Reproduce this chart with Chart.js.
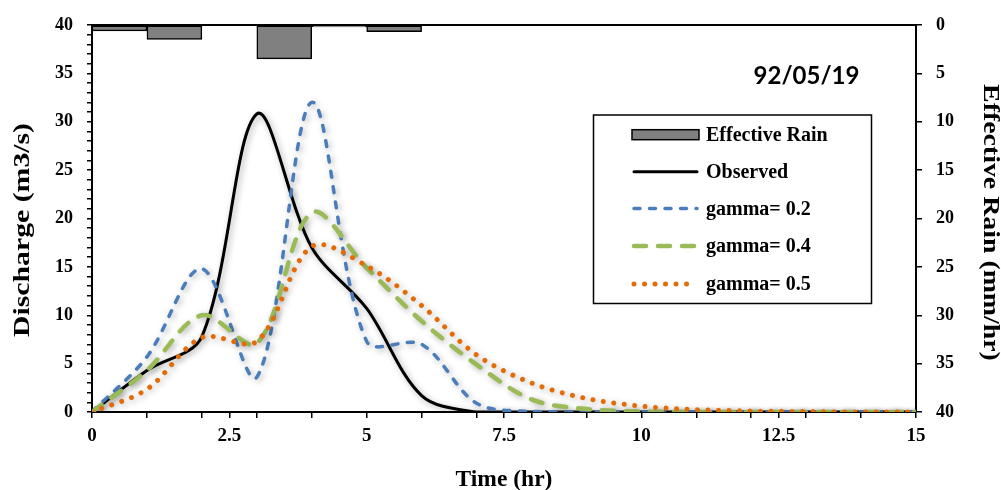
<!DOCTYPE html>
<html><head><meta charset="utf-8">
<script src="https://cdn.jsdelivr.net/npm/chart.js@4.4.1/dist/chart.umd.min.js"></script>
<style>html,body{margin:0;padding:0;background:#fff;overflow:hidden}canvas{display:block}</style>
</head><body>
<canvas id="c" width="1001" height="490"></canvas>
<script>
// ---- data ----
const timeHr   = [0, 1, 2, 3, 4, 5, 6, 7, 8, 9, 10, 11, 12, 13, 14, 15];
const observed = [0, 4.3, 7.8, 30.8, 17.0, 10.7, 1.7, 0, 0, 0, 0, 0, 0, 0, 0, 0];
const gamma02  = [0, 5.7, 14.8, 3.6, 32.0, 7.3, 7.0, 0.9, 0.05, 0, 0, 0, 0, 0, 0, 0];
const gamma04  = [0, 4.3, 10.0, 7.1, 20.6, 14.9, 9.4, 4.9, 1.3, 0.3, 0.05, 0, 0, 0, 0, 0];
const gamma05  = [0, 2.35, 7.7, 7.3, 17.1, 15.1, 11.0, 5.9, 3.0, 1.4, 0.6, 0.25, 0.1, 0.05, 0, 0];
const rainTime = [0.5, 1.5, 2.5, 3.5, 4.5, 5.5];
const rainStep = 1; // hours covered by each rain bar
const effectiveRain = [0.6, 1.5, 0, 3.5, 0.2, 0.7];
const xTickValues = [0, 1, 2, 2.5, 3, 4, 5, 6, 7, 7.5, 8, 9, 10, 11, 12, 12.5, 13, 14, 15];
const xLabelStep = 2.5;
const yLabelStep = 5;
const seriesNames = ['Effective Rain', 'Observed', 'gamma= 0.2', 'gamma= 0.4', 'gamma= 0.5'];
const eventLabel = '92/05/19';
const axisTitles = { x: 'Time (hr)', y: 'Discharge (m3/s)', y2: 'Effective Rain (mm/hr)' };

const pts = (xs, ys) => xs.map((x, i) => ({ x, y: ys[i] }));
const SERIF = "'Liberation Serif', 'Times New Roman', serif";
const tickFont = { family: SERIF, size: 18, weight: 'bold', lineHeight: 1 };
const xTickFont = { family: SERIF, size: 19, weight: 'bold', lineHeight: 1 };

const lineBase = { type: 'line', xAxisID: 'x', yAxisID: 'y', pointRadius: 0, fill: false, tension: 0.33, borderCapStyle: 'round', borderJoinStyle: 'round' };

const datasets = [
  { type: 'bar', label: seriesNames[0], data: pts(rainTime, effectiveRain), xAxisID: 'xRain', yAxisID: 'y2',
    backgroundColor: '#808080', borderColor: '#000', borderWidth: 1.5, borderSkipped: false,
    grouped: false, barPercentage: 1, categoryPercentage: 1, order: 5 },
  { ...lineBase, label: seriesNames[1], data: pts(timeHr, observed), borderColor: '#000', borderWidth: 3, borderDash: [], order: 4 },
  { ...lineBase, label: seriesNames[2], data: pts(timeHr, gamma02), borderColor: '#4A7EBB', borderWidth: 3.5, borderDash: [6, 9.5], order: 3 },
  { ...lineBase, label: seriesNames[3], data: pts(timeHr, gamma04), borderColor: '#9BBB59', borderWidth: 4.5, borderDash: [12, 12], order: 2 },
  { ...lineBase, label: seriesNames[4], data: pts(timeHr, gamma05), borderColor: '#E36C09', borderWidth: 5, borderDash: [0.01, 10.5], order: 1 },
];

const shadow = {
  id: 'shadow',
  beforeDatasetDraw(chart, args) {
    if (args.meta.type !== 'line') return;
    const ctx = chart.ctx; ctx.save();
    ctx.shadowColor = 'rgba(0,0,0,0.32)'; ctx.shadowBlur = 6; ctx.shadowOffsetX = 2; ctx.shadowOffsetY = 2;
  },
  afterDatasetDraw(chart, args) {
    if (args.meta.type !== 'line') return;
    chart.ctx.restore();
  }
};

function stretchedText(ctx, text, cx, cy, rot, stretch) {
  ctx.save();
  ctx.translate(cx, cy); ctx.rotate(rot); ctx.scale(stretch, 1);
  ctx.textAlign = 'center'; ctx.textBaseline = 'middle';
  ctx.fillText(text, 0, 0);
  ctx.restore();
}

const decor = {
  id: 'decor',
  afterDraw(chart) {
    const { ctx, chartArea: a } = chart;
    ctx.save();
    // top frame line
    ctx.strokeStyle = '#000'; ctx.lineWidth = 2; ctx.setLineDash([]);
    ctx.beginPath(); ctx.moveTo(a.left, a.top); ctx.lineTo(a.right, a.top); ctx.stroke();
    // axis titles
    ctx.fillStyle = '#000';
    ctx.font = `bold 23.5px ${SERIF}`;
    stretchedText(ctx, axisTitles.x, (a.left + a.right) / 2, 480, 0, 1);
    ctx.font = `bold 24px ${SERIF}`;
    stretchedText(ctx, axisTitles.y, 23, 230, -Math.PI / 2, 1.24);
    stretchedText(ctx, axisTitles.y2, 990.5, 222.5, Math.PI / 2, 1.16);
    // event label
    ctx.font = "bold 24px Lato, 'Open Sans', sans-serif";
    ctx.textAlign = 'center'; ctx.textBaseline = 'middle';
    ctx.fillText(eventLabel, 806.5, 76.5);
    // legend box
    const bx = 593.5, by = 115, bw = 278, bh = 188.5;
    ctx.fillStyle = '#fff'; ctx.fillRect(bx, by, bw, bh);
    ctx.lineWidth = 1.5; ctx.strokeStyle = '#000'; ctx.strokeRect(bx, by, bw, bh);
    const sx0 = 632, sx1 = 699, tx = 706, rowY = [134.7, 171.7, 208.5, 246, 284];
    ctx.font = `bold 20px ${SERIF}`; ctx.textAlign = 'left'; ctx.textBaseline = 'middle';
    chart.data.datasets.forEach((ds, i) => {
      const y = rowY[i];
      if (ds.type === 'bar') {
        ctx.fillStyle = ds.backgroundColor; ctx.fillRect(sx0, y - 5, sx1 - sx0, 10);
        ctx.lineWidth = 1.5; ctx.strokeStyle = ds.borderColor; ctx.setLineDash([]);
        ctx.strokeRect(sx0, y - 5, sx1 - sx0, 10);
      } else {
        ctx.strokeStyle = ds.borderColor; ctx.lineWidth = ds.borderWidth; ctx.lineCap = 'round';
        ctx.setLineDash(ds.borderDash || []);
        ctx.beginPath(); ctx.moveTo(sx0 + 2, y); ctx.lineTo(sx1 - 2, y); ctx.stroke();
        ctx.setLineDash([]);
      }
      ctx.fillStyle = '#000'; ctx.fillText(ds.label, tx, y + 1);
    });
    ctx.restore();
  }
};

const chart = new Chart(document.getElementById('c'), {
  data: { datasets },
  options: {
    responsive: false, animation: false, devicePixelRatio: 1,
    layout: { padding: { top: 25, left: 0, right: 0, bottom: 0 } },
    plugins: { legend: { display: false }, tooltip: { enabled: false } },
    scales: {
      x: {
        type: 'linear', position: 'bottom', min: 0, max: 15, offset: false,
        afterBuildTicks: s => { s.ticks = xTickValues.map(v => ({ value: v })); },
        afterFit: s => { s.height = 78; },
        ticks: { autoSkip: false, maxRotation: 0, minRotation: 0, color: '#000', font: xTickFont, padding: 9,
          callback: v => (Math.abs(v / xLabelStep - Math.round(v / xLabelStep)) < 1e-9 ? String(v) : '') },
        grid: { display: true, drawOnChartArea: false, drawTicks: true, tickLength: 6, color: '#000', lineWidth: 1.5, offset: false },
        border: { display: true, color: '#000', width: 2 },
        title: { display: false }
      },
      xRain: {
        type: 'linear', position: 'top', min: 0, max: 15, offset: false, display: false,
        ticks: { stepSize: 1 }, grid: { offset: false }
      },
      y: {
        type: 'linear', position: 'left', min: 0, max: 40,
        afterFit: s => { s.width = 92; },
        ticks: { stepSize: 1, autoSkip: false, color: '#000', font: tickFont, padding: 14,
          callback: v => (v % yLabelStep === 0 ? String(v) : '') },
        grid: { display: true, drawOnChartArea: false, drawTicks: true, tickLength: 5, color: '#000', lineWidth: 1.5 },
        border: { display: true, color: '#000', width: 2 },
        title: { display: false }
      },
      y2: {
        type: 'linear', position: 'right', min: 0, max: 40, reverse: true,
        afterFit: s => { s.width = 85; },
        ticks: { stepSize: 5, autoSkip: false, color: '#000', font: tickFont, padding: 14 },
        grid: { display: true, drawOnChartArea: false, drawTicks: true, tickLength: 6, color: '#000', lineWidth: 1.5 },
        border: { display: true, color: '#000', width: 2 },
        title: { display: false }
      }
    }
  },
  plugins: [shadow, decor]
});

// each rain bar spans one full time step on the axis
const xr = chart.scales.xRain;
chart.data.datasets[0].barThickness = Math.abs(xr.getPixelForValue(rainStep) - xr.getPixelForValue(0));
chart.update();
</script>
</body></html>
